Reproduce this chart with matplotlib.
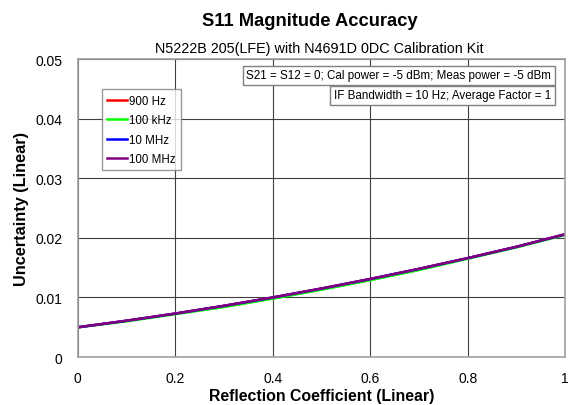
import matplotlib
matplotlib.use("Agg")
import matplotlib.pyplot as plt

plt.rcParams['font.family'] = ['Liberation Sans', 'DejaVu Sans']

x = [0.0, 0.1, 0.2, 0.3, 0.4, 0.5, 0.6, 0.7, 0.8, 0.9, 1.0]
u_900hz = [0.0050, 0.0061, 0.0073, 0.0086, 0.0100, 0.0115, 0.0131, 0.0148, 0.0166, 0.0185, 0.0206]
u_100khz = [0.0050, 0.0060, 0.0072, 0.0084, 0.0098, 0.0113, 0.0129, 0.0146, 0.0165, 0.0184, 0.0205]
u_10mhz = [0.0050, 0.0061, 0.0073, 0.0086, 0.0100, 0.0115, 0.0131, 0.0148, 0.0166, 0.0185, 0.0206]
u_100mhz = [0.0050, 0.0061, 0.0073, 0.0086, 0.0100, 0.0115, 0.0131, 0.0148, 0.0166, 0.0185, 0.0206]

series = [("900 Hz", u_900hz, "#ff0000"),
          ("100 kHz", u_100khz, "#00ff00"),
          ("10 MHz", u_10mhz, "#0000ff"),
          ("100 MHz", u_100mhz, "#800080")]

fig = plt.figure(figsize=(5.68, 4.06), dpi=100)
ax = fig.add_axes([0.137, 0.118, 0.858, 0.734])

for name, vals, col in series:
    ax.plot(x, vals, color=col, lw=1.8, label=name)

ax.set_xlim(0, 1)
ax.set_ylim(0, 0.05)
ax.set_xticks([0, 0.2, 0.4, 0.6, 0.8, 1])
ax.set_xticklabels(["0", "0.2", "0.4", "0.6", "0.8", "1"])
ax.set_yticks([0, 0.01, 0.02, 0.03, 0.04, 0.05])
ax.set_yticklabels(["0", "0.01", "0.02", "0.03", "0.04", "0.05"])
ax.grid(True, color="#404040", lw=0.8)
ax.set_axisbelow(True)
for s in ax.spines.values():
    s.set_color("#a0a0a0")
    s.set_linewidth(1.2)
ax.tick_params(length=0, labelsize=10)
ax.tick_params(axis="x", pad=10)
ax.tick_params(axis="y", pad=11)

ax.set_xlabel("Reflection Coefficient (Linear)", fontsize=11.4, fontweight="bold", labelpad=2.5)
ax.set_ylabel("Uncertainty (Linear)", fontsize=11.7, fontweight="bold", labelpad=4.5)

fig.text(0.546, 0.946, "S11 Magnitude Accuracy", ha="center", va="center",
         fontsize=13.2, fontweight="bold")
fig.text(0.562, 0.880, "N5222B 205(LFE) with N4691D 0DC Calibration Kit", ha="center",
         va="center", fontsize=10.4)

leg = ax.legend(loc="upper left", bbox_to_anchor=(0.049, 0.898), fontsize=8.3,
                frameon=True, fancybox=False, handlelength=1.7, handletextpad=0.15,
                borderpad=0.5, labelspacing=0.62, borderaxespad=0)
leg.get_frame().set_edgecolor("#808080")
leg.get_frame().set_linewidth(1.0)

bbox = dict(boxstyle="square,pad=0.3", fc="white", ec="#808080", lw=1.0)
ax.text(0.971, 0.946, "S21 = S12 = 0; Cal power = -5 dBm; Meas power = -5 dBm",
        transform=ax.transAxes, ha="right", va="center", fontsize=8.4, bbox=bbox)
ax.text(0.971, 0.879, "IF Bandwidth = 10 Hz; Average Factor = 1",
        transform=ax.transAxes, ha="right", va="center", fontsize=8.4, bbox=bbox)

fig.savefig("out.png", dpi=100)
